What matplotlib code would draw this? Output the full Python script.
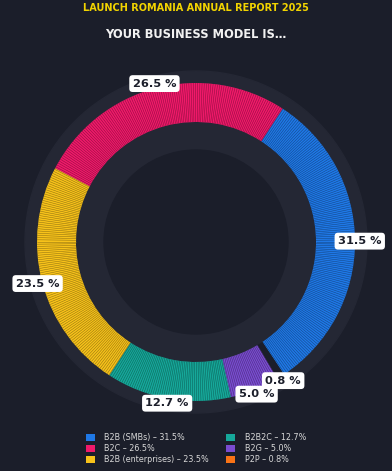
import numpy as np
import matplotlib
matplotlib.use("Agg")
import matplotlib.pyplot as plt
from matplotlib.patches import Circle, Patch
from matplotlib.collections import LineCollection
from matplotlib.colors import to_rgb

labels = ["B2B (SMBs)", "B2C", "B2B (enterprises)", "B2B2C", "B2G", "P2P"]
shares = [31.5, 26.5, 23.5, 12.7, 5.0, 0.8]
colors = ["#1f78e6", "#f0196a", "#f7c21a", "#16a89a", "#7a4cd0", "#f97316"]

BG = "#1b1e2a"
GREY = "#242734"

fig = plt.figure(figsize=(3.92, 4.71), dpi=100, facecolor=BG)
ax = fig.add_axes([0, 0, 1, 1])
ax.set_facecolor(BG)

R = 159.0  # outer ring radius in px; everything scaled to it
ring_w = 39 / R
wedges, _ = ax.pie(shares, radius=1, startangle=-56.4, counterclock=True,
                   colors=colors, wedgeprops=dict(width=ring_w, linewidth=0))
for w in wedges:
    w.set_zorder(3)

# pie resets limits, so set them afterwards (centre at 196, 242 px from top)
ax.set_aspect("auto")
ax.set_xlim(-196 / R, 196 / R)
ax.set_ylim(-(471 - 242) / R, 242 / R)
ax.axis("off")

ax.add_patch(Circle((0, 0), 171 / R, color=GREY, zorder=0))
ax.add_patch(Circle((0, 0), 92 / R, color=BG, zorder=2))

# the P2P slice is so thin it reads as a dark gap in the original
wedges[-1].set_facecolor(BG)

# radial stripes
for w, c in zip(wedges[:-1], colors[:-1]):
    dark = tuple(v * 0.6 for v in to_rgb(c))
    angs = np.deg2rad(np.arange(w.theta1 + 0.4, w.theta2, 0.8))
    segs = [[(0.755 * np.cos(a), 0.755 * np.sin(a)), (np.cos(a), np.sin(a))] for a in angs]
    ax.add_collection(LineCollection(segs, colors=[dark], linewidths=0.4, zorder=4))

# percentage labels
for w, s in zip(wedges, shares):
    mid = np.deg2rad((w.theta1 + w.theta2) / 2)
    r = 1.03
    ax.text(r * np.cos(mid), r * np.sin(mid), f"{s:.1f} %", ha="center", va="center",
            fontsize=8.2, fontweight="bold", color=BG, zorder=6,
            bbox=dict(boxstyle="round,pad=0.3", fc="white", ec="none"))

fig.text(0.5, 1 - 8 / 471, "LAUNCH ROMANIA ANNUAL REPORT 2025", ha="center", va="center",
         color="#f2d400", fontsize=7, fontweight="bold")
fig.text(0.5, 1 - 35 / 471, "YOUR BUSINESS MODEL IS…", ha="center", va="center",
         color="#f2f2f2", fontsize=8.3, fontweight="bold")

handles = [Patch(facecolor=c, edgecolor="none") for c in colors]
leg_labels = [f"{l} – {s:.1f}%" for l, s in zip(labels, shares)]
leg = fig.legend(handles, leg_labels, ncol=2, loc="upper center",
                 bbox_to_anchor=(0.5, 1 - 426 / 471), frameon=False, fontsize=5.8,
                 labelcolor="#d8d8d8", handlelength=1.1, handleheight=1.1,
                 columnspacing=2.1, labelspacing=0.25, handletextpad=1.2)

fig.savefig("out.png", dpi=100, facecolor=BG)
